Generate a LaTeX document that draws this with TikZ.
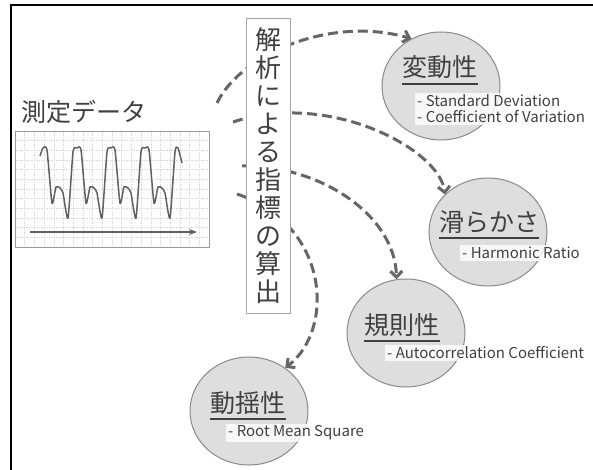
\documentclass[tikz,border=0pt]{standalone}
\usepackage{fontspec}
\setmainfont{Noto Sans CJK JP}
\usetikzlibrary{arrows.meta,shapes.geometric}
\definecolor{txt}{HTML}{404040}
\definecolor{arr}{HTML}{666666}
\definecolor{circfill}{HTML}{DEDEDE}
\definecolor{circline}{HTML}{8A8A8A}
\definecolor{wave}{HTML}{606060}
\begin{document}
\begin{tikzpicture}[x=1pt,y=-1pt,
 every node/.style={inner sep=0pt, text=txt},
 metric/.style={ellipse, draw=circline, fill=circfill, line width=1pt, minimum width=118pt, minimum height=108pt},
 title/.style={font=\fontsize{25}{25}\selectfont, anchor=base},
 sub/.style={font=\fontsize{15}{16}\selectfont, fill=white, fill opacity=0.8, text opacity=1, inner sep=2pt, align=left, anchor=west},
 ul/.style={line width=2pt, draw=txt},
 flow/.style={draw=arr, line width=3pt, dash pattern=on 10pt off 5pt, -{Straight Barb[length=6pt,width=12pt]}},
 vbox/.style={draw=gray!70, fill=white, line width=1pt, minimum width=44pt, minimum height=294pt, align=center, font=\fontsize{26}{28}\selectfont},
 gridl/.style={draw=gray!30, line width=0.5pt, dash pattern=on 1.5pt off 1pt},
 chartbox/.style={draw=gray!80, fill=white, line width=1.2pt, minimum width=194pt, minimum height=116pt, anchor=north west}
]
\useasboundingbox (0,0) rectangle (593,470);
\fill[white] (0,0) rectangle (593,470);
% frame
\draw[line width=2pt, black] (593,5) -- (11,5) -- (11,470);

% measured data
\node[anchor=base west, font=\fontsize{25}{25}\selectfont] (mtitle) at (21,122) {測定データ};
\node[chartbox] (chart) at (15,131) {};
\foreach \i in {1,...,19} \draw[gridl] ({15+\i*9.7},132) -- ({15+\i*9.7},246);
\foreach \j in {1,...,11} \draw[gridl] (16,{131+\j*9.67}) -- (208,{131+\j*9.67});
\draw[wave, line width=1.5pt, line join=round] plot[smooth, tension=0.35] coordinates {
(40,156) (43,148) (47,150) (52,203) (56,187) (60,188) (63,193) (68,218) (73,152)
(77,148) (81,150) (86,203) (90,187) (94,188) (97,193) (102,218) (107,152)
(111,148) (115,150) (120,203) (124,187) (128,188) (131,193) (136,218) (141,152)
(145,148) (149,150) (154,203) (158,187) (162,188) (165,193) (170,218) (175,152)
(178,148) (182,163)};
\coordinate (ax0) at (30,232);
\coordinate (ax1) at (197,232);
\draw[wave, line width=1.5pt, -{Stealth[length=8pt,width=6pt]}] (ax0) -- (ax1);

% metric circles
\node[metric] (c1) at (441,86) {};
\node[metric] (c2) at (488,232) {};
\node[metric] (c3) at (406,333) {};
\node[metric] (c4) at (249,411) {};

\node[title] (t1) at (440,77) {変動性};
\node[title] (t2) at (489,231) {滑らかさ};
\node[title] (t3) at (402,334) {規則性};
\node[title] (t4) at (248,412) {動揺性};
\foreach \t in {t1,t2,t3,t4}
  \draw[ul] ([yshift=-7pt]\t.base west) -- ([yshift=-7pt]\t.base east);

\node[sub] (d1) at (415,109) {- Standard Deviation\\- Coefficient of Variation};
\node[sub] (d2) at (460,253) {- Harmonic Ratio};
\node[sub] (d3) at (385,353) {- Autocorrelation Coefficient};
\node[sub] (d4) at (226,433) {- Root Mean Square};

% arrows
\coordinate (s1) at (217,103);
\coordinate (s2) at (233,122);
\coordinate (s3) at (242,166);
\coordinate (s4) at (237,194);
\draw[flow] (s1) .. controls (240,55) and (330,15) .. (c1.122);
\draw[flow] (s2) .. controls (330,90) and (440,150) .. (c2.139);
\draw[flow] (s3) .. controls (320,165) and (395,215) .. (c3.100);
\draw[flow] (s4) .. controls (330,225) and (335,330) .. (c4.50);

% vertical label
\node[vbox] (calc) at (268,166) {解\\析\\に\\よ\\る\\指\\標\\の\\算\\出};
\end{tikzpicture}
\end{document}
